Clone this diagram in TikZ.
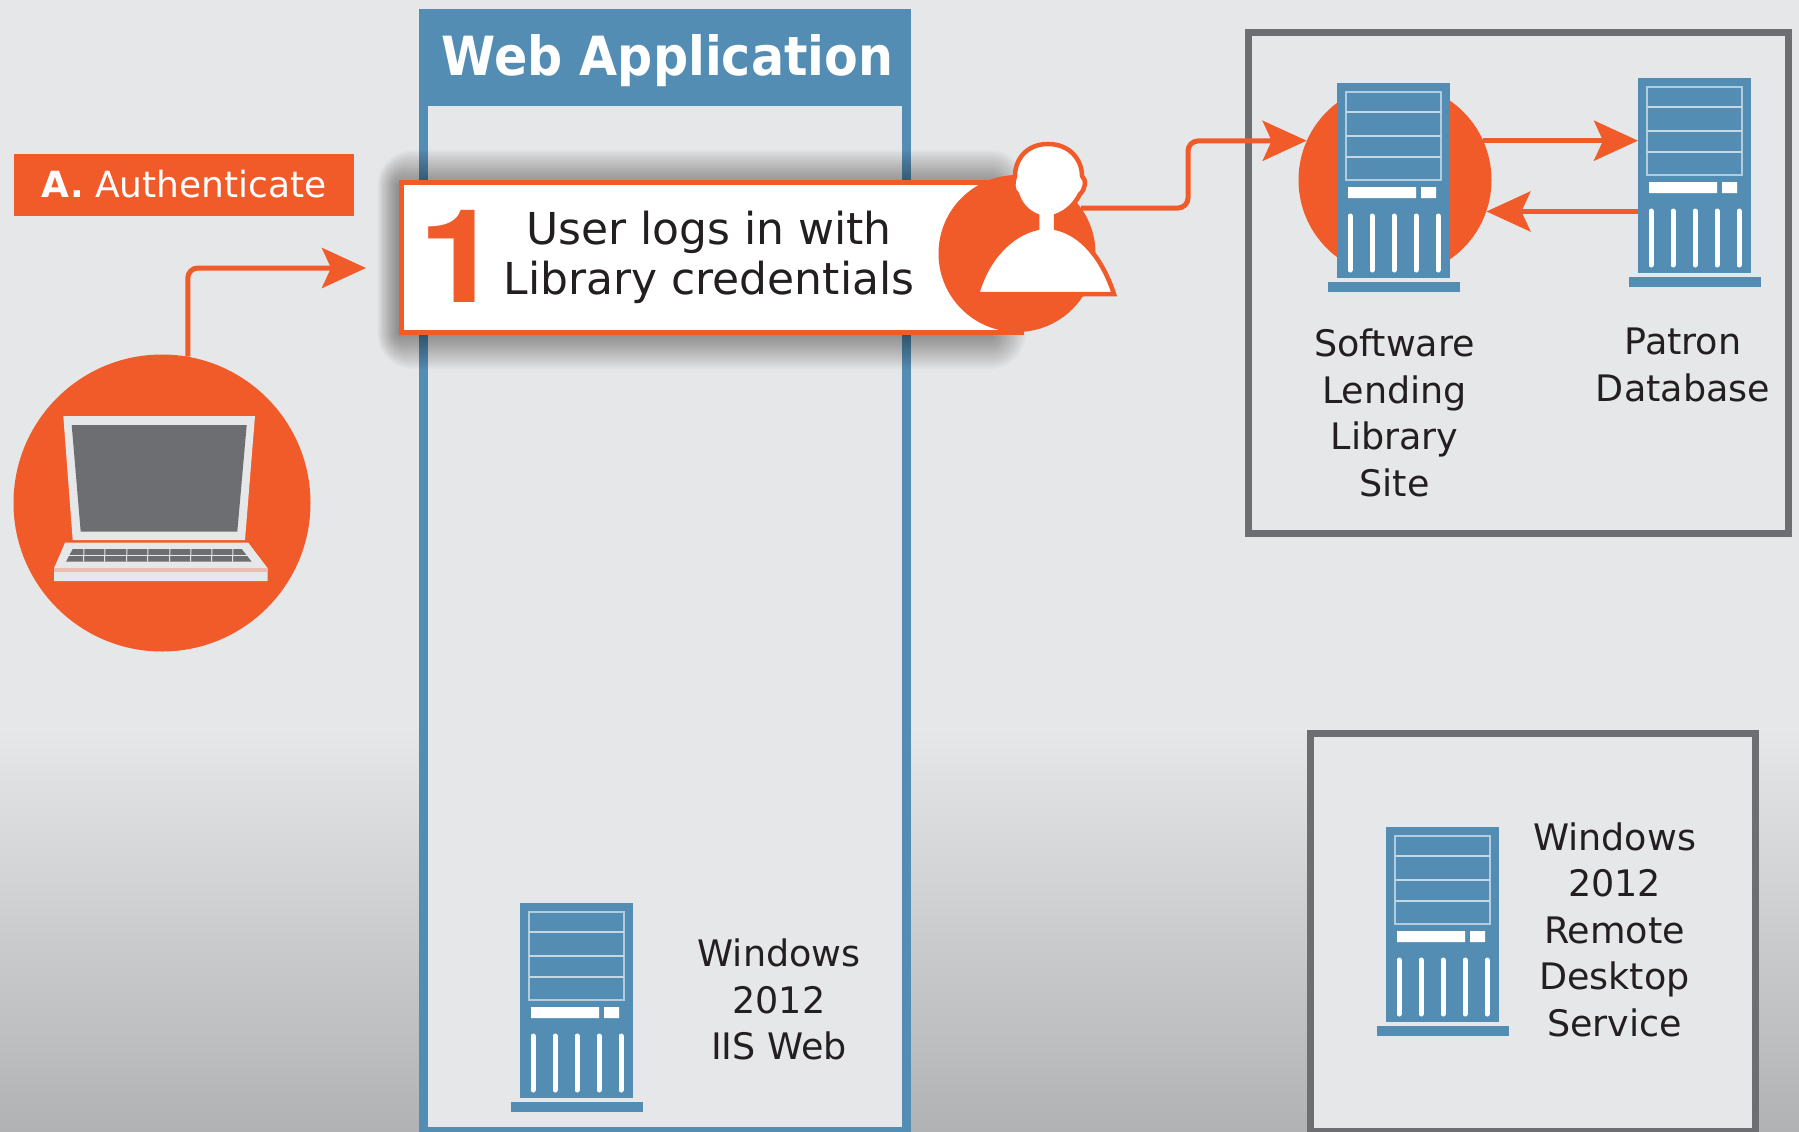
\documentclass[tikz,border=0pt]{standalone}
\usepackage{fontspec}
\setmainfont{DejaVu Sans}
\newfontfamily\onefont{TeX Gyre Heros}
\usetikzlibrary{arrows.meta,calc}
\definecolor{org}{HTML}{F15A29}
\definecolor{blu}{HTML}{548DB3}
\definecolor{pale}{HTML}{E6E7E8}
\definecolor{gry}{HTML}{6D6E71}
\definecolor{txt}{HTML}{231F20}
\definecolor{low}{HTML}{B1B2B4}
\tikzset{
  x=1pt,y=-1pt,
  conn/.style={draw=org,line width=5pt,rounded corners=10pt,-{Stealth[length=44pt,width=40pt,inset=9pt]}},
  lbl/.style={text=txt,align=center,font=\fontsize{36.5}{46.5}\selectfont,inner sep=0pt},
  body/.style={fill=blu,minimum width=113pt,minimum height=195pt,inner sep=0pt,anchor=north west},
  disc/.style={circle,fill=org,inner sep=0pt},
  syst/.style={draw=gry,line width=7pt,fill=pale},
}
\newcommand{\srvdetail}[1]{%
  \begin{scope}[shift={(#1.north west)}]
    \fill[blu] (-9,199) rectangle (123,209);
    \draw[white!55!blu,line width=2pt] (9,9) rectangle (104,97);
    \foreach \r in {29,53,74} \draw[white!65!blu,line width=1.5pt] (9,\r) -- (104,\r);
    \fill[white] (11,104) rectangle (79,115) (84,104) rectangle (99,115);
    \foreach \c in {13,35,57,79,101} \draw[white,line width=5pt,line cap=round] (\c,133) -- (\c,187);
  \end{scope}}
\begin{document}
\begin{tikzpicture}
\useasboundingbox (0,0) rectangle (1799,1132);
% background
\fill[pale] (0,0) rectangle (1799,730);
\shade[top color=pale,bottom color=low] (0,729) rectangle (1799,1132);

% web application frame
\fill[pale] (423,60) rectangle (907,1132);
\draw[blu,line width=9pt] (423.5,60) -- (423.5,1131.5) -- (906.5,1131.5) -- (906.5,60);
\node[fill=blu,minimum width=492pt,minimum height=97pt,inner sep=0pt,anchor=north west] (webhead) at (419,9) {};
\node[text=white,font=\fontsize{54}{54}\selectfont\bfseries,xscale=.91,inner sep=0pt] (webtitle) at (667.5,61) {Web Application};

% right-hand systems
\draw[syst] (1248,33) rectangle (1788,533);
\draw[syst] (1310,733) rectangle (1755,1131);

% callout shadow
\foreach \g in {36,34,...,2}
  \fill[black,opacity=0.024,rounded corners=\g pt] (399-0.6*\g,180-\g+6) rectangle (990+\g,335+\g-2);

% callout
\node[draw=org,line width=5pt,fill=white,minimum width=620pt,minimum height=150pt,inner sep=0pt,anchor=north west] (callout) at (399,180) {};
\node[text=org,font=\onefont\bfseries\fontsize{130}{130}\selectfont,xscale=1.15,inner sep=0pt] (one) at (460,256) {1};
\node[lbl,text=txt,font=\fontsize{44}{49.5}\selectfont] (logs) at (709,257.5) {User logs in with\\Library credentials};
\node[disc,minimum size=157pt] (usr) at (1017,253.5) {};

% person
\fill[white,draw=org,line width=4.5pt] (1048,144) .. controls (1070,144) and (1082,160) .. (1082,176)
     .. controls (1087,180) and (1085,190) .. (1080,194)
     .. controls (1075,204) and (1067,212) .. (1056,216)
     -- (1056,228) .. controls (1082,234) and (1102,258) .. (1114,294)
     -- (977,294) .. controls (987,258) and (1011,234) .. (1037,228)
     -- (1037,216) .. controls (1027,212) and (1020,204) .. (1017,194)
     .. controls (1012,190) and (1013,182) .. (1015,176)
     .. controls (1015,160) and (1026,144) .. (1048,144) -- cycle;
\coordinate (usrout) at (1081,208);

% laptop
\node[disc,minimum size=297pt] (lap) at (162,503) {};
\fill[pale] (63.3,416) -- (255,416) -- (245,540) -- (72.7,540) -- cycle;
\fill[gry] (71.7,425) -- (246.7,425) -- (237.3,531.7) -- (80.7,531.7) -- cycle;
\fill[pale] (65,542.7) -- (248.3,542.7) -- (267.7,568.3) -- (267.7,581) -- (54,581) -- (54,568.3) -- cycle;
\fill[org!30!pale] (54,567.5) rectangle (267.7,571.5);
\fill[gry] (72.7,549) -- (241.7,549) -- (251.7,561.7) -- (66,561.7) -- cycle;
\foreach \k in {84,105,127,148,170,191,212,233}
  \draw[pale,line width=1pt] (\k,549) -- (\k-.5,561.7);
\draw[pale,line width=1pt] (69,555.5) -- (247,555.5);

% label A
\node[fill=org,text=white,font=\fontsize{36}{36}\selectfont,minimum width=340pt,minimum height=62pt,inner sep=0pt,anchor=north west] (authlabel) at (14,154) {\raisebox{2pt}{\textbf{A.} Authenticate}};

% servers
\node[disc,minimum size=193pt] (srvAc) at (1395,180) {};
\node[body] (srvA) at (1337,83) {};
\srvdetail{srvA}
\node[body] (srvB) at (1638,78) {};
\srvdetail{srvB}
\node[body] (srvC) at (520,903) {};
\srvdetail{srvC}
\node[body] (srvD) at (1386,827) {};
\srvdetail{srvD}

% connectors
\coordinate (logsin) at (366,268);
\draw[conn] (lap.80) -- (lap.80 |- logsin) -- (logsin);
\draw[conn] (usrout) -- (1188,208) -- (1188,141) -- (srvAc.156);
\draw[conn] (srvAc.24) -- (srvAc.24 -| srvB.west);
\draw[conn] (srvAc.-19.4 -| srvB.west) -- (srvAc.-19.4);

% labels
\node[lbl] (lblA) at (1394.5,413) {Software\\Lending\\Library\\Site};
\node[lbl] (lblB) at (1683,365) {Patron\\Database};
\node[lbl] (lblC) at (779,999.5) {Windows\\2012\\IIS Web};
\node[lbl] (lblD) at (1614.5,929.5) {Windows\\2012\\Remote\\Desktop\\Service};
\end{tikzpicture}
\end{document}
